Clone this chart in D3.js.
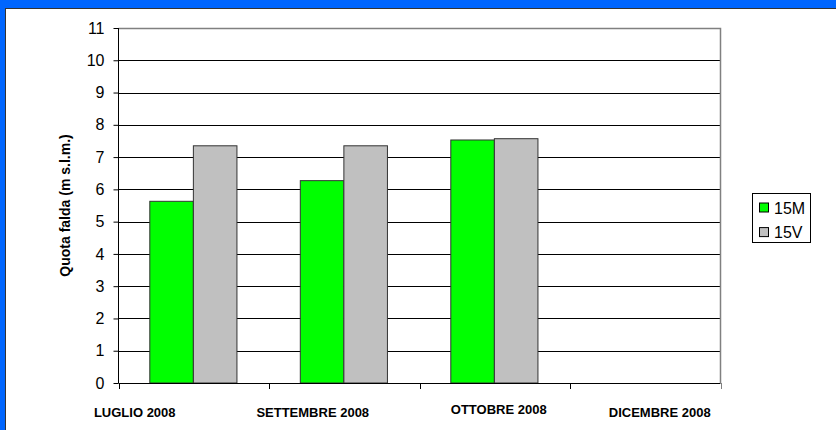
<!DOCTYPE html>
<html><head><meta charset="utf-8">
<script src="https://cdn.jsdelivr.net/npm/d3@7"></script>
<style>body{margin:0;background:#fff}svg{display:block}</style>
</head><body>
<script>
const categories = ["LUGLIO 2008","SETTEMBRE 2008","OTTOBRE 2008","DICEMBRE 2008"];
const series = ["15M","15V"];
const values15M = [5.63, 6.27, 7.53, null];
const values15V = [7.35, 7.35, 7.57, null];
const yTicks = [0,1,2,3,4,5,6,7,8,9,10,11];
const labelShift = [-59, -31.5, 4, 14.5];
const labelDrop = [0, 0, -3, -0.5];
const colors = {"15M":"#00ff00","15V":"#c0c0c0"};

(function(){
const W = 836, H = 430;
const svg = d3.select("body").append("svg").attr("width", W).attr("height", H);
const font = "Arial, 'Liberation Sans', sans-serif";

// frame
svg.append("rect").attr("width", W).attr("height", H).attr("fill", "#fff");
svg.append("rect").attr("x",0).attr("y",0).attr("width",W).attr("height",8).attr("fill","#0066ff");
svg.append("rect").attr("x",0).attr("y",0).attr("width",5).attr("height",H).attr("fill","#0066ff");
svg.append("line").attr("x1",5).attr("x2",W).attr("y1",8.5).attr("y2",8.5).attr("stroke","#333").attr("stroke-width",1);
svg.append("line").attr("x1",5.5).attr("x2",5.5).attr("y1",8).attr("y2",H).attr("stroke","#333").attr("stroke-width",1);

const pLeft = 118.5, pRight = 720.5, pTop = 28, pBottom = 383;
const x = d3.scaleBand().domain(categories).range([pLeft, pRight]);
const bw = x.bandwidth();
const x1 = d3.scaleBand().domain(series).range([bw*0.208, bw*0.787]);
const y = d3.scaleLinear().domain([0, 11]).range([pBottom, pTop]);

// gridlines
svg.append("g").selectAll("line").data(yTicks.filter(t => t > 0 && t < 11)).join("line")
  .attr("x1", pLeft).attr("x2", pRight)
  .attr("y1", d => Math.round(y(d)) + 0.5).attr("y2", d => Math.round(y(d)) + 0.5)
  .attr("stroke", "#000").attr("stroke-width", 1);
// plot border top/right
svg.append("path").attr("d", `M${pLeft},${pTop+0.5}H${pRight}V${pBottom}`)
  .attr("fill","none").attr("stroke","#808080").attr("stroke-width",1.5);

// bars
const rows = categories.map((c,i) => ({cat:c, vals:[{s:"15M",v:values15M[i]},{s:"15V",v:values15V[i]}]}));
const g = svg.append("g").selectAll("g").data(rows).join("g")
  .attr("transform", d => `translate(${x(d.cat)},0)`);
g.selectAll("rect").data(d => d.vals.filter(e => e.v != null)).join("rect")
  .attr("x", d => x1(d.s)).attr("width", x1.bandwidth())
  .attr("y", d => y(d.v)).attr("height", d => y(0) - y(d.v))
  .attr("fill", d => colors[d.s]).attr("stroke", "#333").attr("stroke-width", 1);

// y axis
const yAxis = svg.append("g").attr("transform", `translate(${pLeft},0)`)
  .call(d3.axisLeft(y).tickValues(yTicks).tickSize(5).tickPadding(9).tickFormat(d3.format("d")));
yAxis.select(".domain").attr("stroke","#000").attr("d", `M0,${pTop}V${pBottom}`);
yAxis.selectAll(".tick line").attr("stroke","#000");
yAxis.selectAll("text").attr("font-family", font).attr("font-size", 16).attr("fill","#000");

// x axis
const xAxis = svg.append("g").attr("transform", `translate(0,${pBottom})`);
xAxis.append("line").attr("x1", pLeft).attr("x2", pRight).attr("y1",0.5).attr("y2",0.5).attr("stroke","#000");
const edges = categories.map(c => x(c)).concat([x(categories[categories.length-1]) + bw]);
xAxis.selectAll(".tk").data(edges).join("line").attr("class","tk")
  .attr("x1", d => Math.round(d)+0.5).attr("x2", d => Math.round(d)+0.5).attr("y1",0).attr("y2",6)
  .attr("stroke", (d,i) => i === edges.length-1 ? "#808080" : "#000");
svg.append("g").selectAll("text").data(categories).join("text")
  .attr("x", (d,i) => x(d) + bw/2 + labelShift[i])
  .attr("y", (d,i) => 417 + labelDrop[i])
  .attr("text-anchor","middle").attr("font-family", font).attr("font-weight","bold")
  .attr("font-size", 13).attr("fill","#000").text(d => d);

// y title
svg.append("text").attr("transform", `translate(70,${(pTop+pBottom)/2}) rotate(-90)`)
  .attr("text-anchor","middle").attr("font-family", font).attr("font-weight","bold")
  .attr("font-size", 14).attr("fill","#000").text("Quota falda (m s.l.m.)");

// legend
const lg = svg.append("g");
lg.append("rect").attr("x",752.5).attr("y",193.5).attr("width",58).attr("height",49)
  .attr("fill","#fff").attr("stroke","#000").attr("stroke-width",1);
const li = lg.selectAll("g").data(series).join("g")
  .attr("transform", (d,i) => `translate(0,${207.5 + i*24.6})`);
li.append("rect").attr("x",759.5).attr("y",-4.5).attr("width",9).attr("height",9)
  .attr("fill", d => colors[d]).attr("stroke","#000").attr("stroke-width",1);
li.append("text").attr("x",774).attr("y",6).attr("font-family",font).attr("font-size",16)
  .attr("fill","#000").text(d => d);
})();
</script>
</body></html>
